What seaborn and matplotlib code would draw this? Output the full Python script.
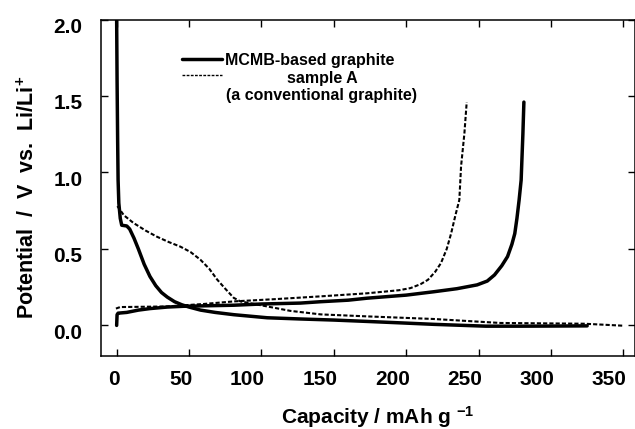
import numpy as np
import pandas as pd
import matplotlib
matplotlib.use("Agg")
import matplotlib.pyplot as plt
import matplotlib.transforms as mtransforms
import seaborn as sns

# MCMB-based graphite, discharge (lithiation)
mcmb_dis_x = [0, 0.3, 0.7, 1.0, 1.5, 2.5, 3.5, 7, 9, 12, 15, 19, 23, 27, 31, 35, 40, 45, 50, 58, 68, 81,
              104, 127, 150, 173, 200, 219, 240, 255, 280, 305, 325]
mcmb_dis_y = [2.0, 1.6, 1.2, 0.95, 0.80, 0.70, 0.655, 0.65, 0.63, 0.57, 0.50, 0.40, 0.32, 0.26, 0.215, 0.185,
              0.155, 0.135, 0.12, 0.10, 0.085, 0.07, 0.05, 0.042, 0.035, 0.026, 0.015, 0.007, 0.0, -0.005,
              -0.005, -0.004, -0.003]
# MCMB-based graphite, charge (delithiation)
mcmb_chg_x = [0, 0.3, 1, 7, 15, 23, 35, 46, 60, 81, 100, 127, 141, 160, 173, 200, 219, 235, 249, 256, 261,
              266, 270, 273, 275, 276.5, 278, 279.4, 280.6, 281.3]
mcmb_chg_y = [0.0, 0.07, 0.08, 0.085, 0.10, 0.11, 0.12, 0.125, 0.128, 0.132, 0.14, 0.146, 0.155, 0.165, 0.178,
              0.198, 0.22, 0.24, 0.265, 0.29, 0.33, 0.39, 0.45, 0.53, 0.60, 0.70, 0.82, 0.95, 1.25, 1.46]
# sample A, discharge
sa_dis_x = [0.5, 5, 11.6, 20, 27.8, 36, 44, 51, 57.8, 64, 69.4, 75, 80.9, 85.5, 95, 104, 120, 141, 173, 219,
            265, 300, 323, 350]
sa_dis_y = [0.78, 0.72, 0.67, 0.62, 0.58, 0.545, 0.515, 0.48, 0.43, 0.37, 0.30, 0.24, 0.18, 0.157, 0.14, 0.124,
            0.095, 0.072, 0.059, 0.042, 0.016, 0.013, 0.011, -0.002]
# sample A, charge
sa_chg_x = [-0.5, 2.4, 20, 34.7, 60, 81, 110, 141, 173, 195, 203, 210, 215, 220, 224, 228, 231, 234, 236.7,
            237.9, 240.2, 241.8]
sa_chg_y = [0.11, 0.12, 0.122, 0.124, 0.14, 0.157, 0.172, 0.19, 0.21, 0.23, 0.244, 0.27, 0.298, 0.35, 0.407,
            0.50, 0.60, 0.72, 0.82, 1.04, 1.255, 1.46]

x_ticks = [0, 50, 100, 150, 200, 250, 300, 350]
y_ticks = [0.0, 0.5, 1.0, 1.5, 2.0]

sns.set_theme(style="ticks")
plt.rcParams['font.family'] = ['Liberation Sans', 'DejaVu Sans']
plt.rcParams['font.weight'] = 'bold'
plt.rcParams['mathtext.fontset'] = 'custom'
plt.rcParams['mathtext.rm'] = 'Liberation Sans:bold'
plt.rcParams['mathtext.bf'] = 'Liberation Sans:bold'
plt.rcParams['mathtext.default'] = 'bf'
for key in ['text.color', 'axes.labelcolor', 'xtick.color', 'ytick.color', 'axes.edgecolor']:
    plt.rcParams[key] = 'black'

fig = plt.figure(figsize=(6.35, 4.29), dpi=100)
ax = fig.add_axes([101.3 / 635, 1 - 356 / 429, 533.2 / 635, 336.5 / 429])

curves = [
    (mcmb_dis_x, mcmb_dis_y, 'solid'),
    (mcmb_chg_x, mcmb_chg_y, 'solid'),
    (sa_dis_x, sa_dis_y, 'dashed'),
    (sa_chg_x, sa_chg_y, 'dashed'),
]
for xs, ys, kind in curves:
    df = pd.DataFrame({'cap': xs, 'pot': ys})
    if kind == 'solid':
        sns.lineplot(data=df, x='cap', y='pot', sort=False, estimator=None, ax=ax,
                     color='black', linewidth=2.5)
    else:
        sns.lineplot(data=df, x='cap', y='pot', sort=False, estimator=None, ax=ax,
                     color='black', linewidth=1.5, linestyle=(0, (2, 1)))

ax.set_xlim(-10.6, 357.7)
ax.set_ylim(-0.2, 2.0)
ax.set_xticks(x_ticks)
ax.set_yticks(y_ticks)
ax.set_yticklabels([f"{v:.1f}" for v in y_ticks])
ax.tick_params(direction='in', length=5, width=1, labelsize=15, top=True, right=True,
               labeltop=False, labelright=False)
ax.tick_params(axis='y', pad=13.5)
ax.tick_params(axis='x', pad=10)
for s in ax.spines.values():
    s.set_linewidth(1.1)

# tick labels in the original sit a little off their ticks
for lab in ax.get_xticklabels():
    lab.set_horizontalalignment('right')
    lab.set_transform(lab.get_transform() + mtransforms.ScaledTranslation(0.035, 0, fig.dpi_scale_trans))
for lab in ax.get_yticklabels():
    lab.set_transform(lab.get_transform() + mtransforms.ScaledTranslation(0, -0.06, fig.dpi_scale_trans))

ax.set_xlabel(r"Capacity / mAh g $^{-1}$", fontsize=15, fontweight='bold')
ax.xaxis.set_label_coords(0.518, -0.142)
ax.set_ylabel(r"Potential  /  V  vs.  Li/Li$^{+}$", fontsize=15.5, fontweight='bold')
ax.yaxis.set_label_coords(-0.116, 0.47)

# legend drawn in axes coordinates
ax.plot([0.151, 0.226], [0.8835, 0.8835], transform=ax.transAxes, color='black', linewidth=2.5)
ax.plot([0.151, 0.226], [0.834, 0.834], transform=ax.transAxes, color='black', linewidth=1.0,
        linestyle=(0, (2, 1)))
ax.text(0.232, 0.8635, "MCMB-based graphite", transform=ax.transAxes, fontsize=11.5,
        fontweight='bold', ha='left', va='baseline')
ax.text(0.2345, 0.7595, "sample A\n(a conventional graphite)", transform=ax.transAxes, fontsize=11.5,
        fontweight='bold', ha='left', va='baseline', multialignment='center', linespacing=1.2)

fig.savefig("out.png", dpi=100)
